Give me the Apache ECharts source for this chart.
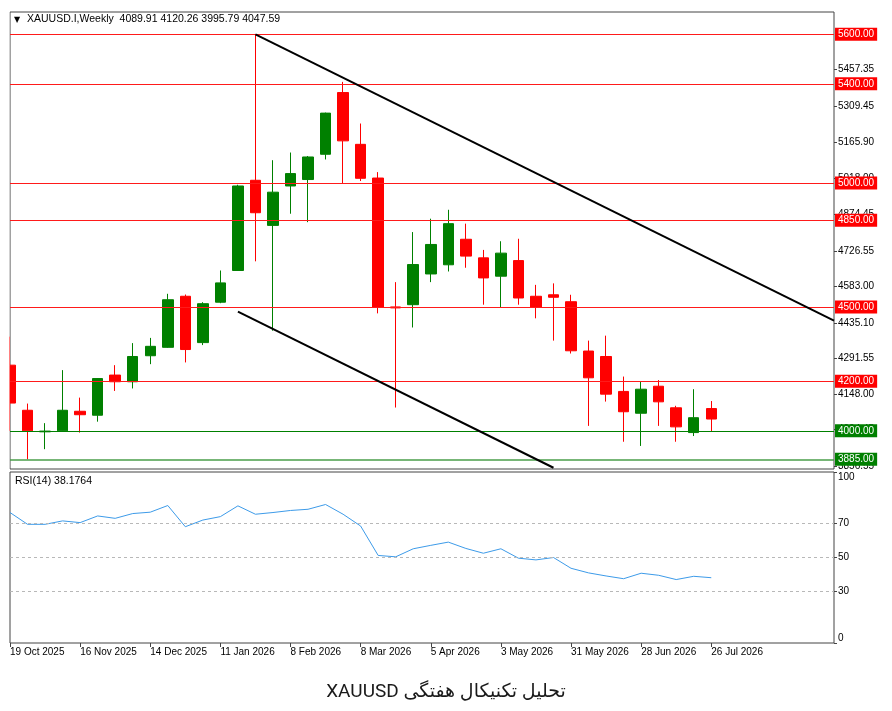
<!DOCTYPE html>
<html>
<head>
<meta charset="utf-8">
<script src="https://cdn.jsdelivr.net/npm/echarts@6/dist/echarts.min.js"></script>
<style>
html, body { margin: 0; padding: 0; background: #fff; }
#chart { width: 892px; height: 711px; }
</style>
</head>
<body>
<div id="chart"></div>
<script>
// weekly bars, XAUUSD
var weeks = ['19 Oct 2025','26 Oct 2025','2 Nov 2025','9 Nov 2025','16 Nov 2025','23 Nov 2025','30 Nov 2025',
  '7 Dec 2025','14 Dec 2025','21 Dec 2025','28 Dec 2025','4 Jan 2026','11 Jan 2026','18 Jan 2026','25 Jan 2026',
  '1 Feb 2026','8 Feb 2026','15 Feb 2026','22 Feb 2026','1 Mar 2026','8 Mar 2026','15 Mar 2026','22 Mar 2026',
  '29 Mar 2026','5 Apr 2026','12 Apr 2026','19 Apr 2026','26 Apr 2026','3 May 2026','10 May 2026','17 May 2026',
  '24 May 2026','31 May 2026','7 Jun 2026','14 Jun 2026','21 Jun 2026','28 Jun 2026','5 Jul 2026','12 Jul 2026',
  '19 Jul 2026','26 Jul 2026','2 Aug 2026','9 Aug 2026','16 Aug 2026','23 Aug 2026','30 Aug 2026','6 Sep 2026','13 Sep 2026'];

var opens  = [4265,4083,3996,4000,4079,4063,4225,4198,4303,4337,4543,4356,4519,4647,5011,4829,4988,5014,5116,5365,5156,
  5020,4500,4509,4633,4670,4773,4698,4624,4687,4543,4549,4521,4322,4300,4159,4071,4180,4093,3993,4089.91];
var closes = [4112,4000,3999,4083,4065,4211,4198,4300,4341,4529,4328,4513,4597,4988,4880,4963,5038,5105,5282,5170,5019,
  4498,4496,4671,4752,4836,4705,4617,4717,4536,4498,4539,4323,4214,4148,4077,4168,4117,4016,4053,4047.59];
var lows   = [4000,3885,3926,3998,3993,4037,4161,4171,4269,4335,4276,4346,4515,4645,4684,4404,4876,4842,5095,5000,5008,
  4474,4094,4417,4600,4643,4658,4509,4498,4509,4454,4364,4312,4020,4118,3956,3939,4020,3956,3979,3995.79];
var highs  = [4380,4110,4031,4245,4134,4213,4265,4354,4375,4553,4550,4519,4647,4993,5598,5092,5123,5109,5284,5408,5240,
  5044,4600,4802,4856,4892,4836,4730,4765,4775,4589,4595,4549,4364,4384,4219,4198,4205,4101,4168,4120.26];

var rsi = [76.3,69.4,69.4,71.4,70.4,74.3,72.9,75.7,76.5,80.4,68.0,71.9,73.9,80.2,75.3,76.3,77.5,78.2,81.0,75.3,68.4,
  51.2,50.4,55.1,57.1,59.0,55.3,52.5,55.1,49.6,48.6,50.0,43.7,41.0,39.2,37.6,40.8,39.6,37.1,39.0,38.1764];

var redLevels = [5600, 5400, 5000, 4850, 4500, 4200];
var greenLevels = [4000, 3885];
var priceTicks = [3856.55, 4004.45, 4148.00, 4291.55, 4435.10, 4583.00, 4726.55, 4874.45, 5018.00, 5165.90, 5309.45, 5457.35];
var rsiTicks = [0, 30, 50, 70, 100];
var rsiLevels = [30, 50, 70];
var upperChannel = [[14, 5600], [47, 4445]];
var lowerChannel = [[13, 4481], [31, 3851]];

var last = opens.length - 1;
var candles = opens.map(function (o, i) { return [o, closes[i], lows[i], highs[i]]; });

function boxLabel(bg) {
  return {
    show: true, position: 'end', distance: 1,
    formatter: function (p) { return Number(p.value).toFixed(2); },
    backgroundColor: bg, color: '#fff', padding: [2, 3, 1, 3],
    fontFamily: 'Liberation Sans', fontSize: 10
  };
}

var lines = [];
redLevels.forEach(function (v) {
  lines.push({ yAxis: v, lineStyle: { color: '#ff1a1a', width: 1, type: 'solid' }, label: boxLabel('#ff0000') });
});
lines.push({ yAxis: greenLevels[0], lineStyle: { color: '#008000', width: 1, type: 'solid' }, label: boxLabel('#008000') });
lines.push({ yAxis: greenLevels[1], lineStyle: { color: '#4a9e4a', width: 1.5, type: 'solid' }, label: boxLabel('#008000') });
lines.push({ yAxis: closes[last], lineStyle: { width: 0, opacity: 0 }, label: boxLabel('#000') });
[upperChannel, lowerChannel].forEach(function (c) {
  lines.push([
    { coord: c[0], lineStyle: { color: '#000', width: 2, type: 'solid' }, label: { show: false } },
    { coord: c[1] }
  ]);
});

var showIdx = function (idx) { return idx % 4 === 0 && idx <= last; };

var chart = echarts.init(document.getElementById('chart'));
var option = {
  backgroundColor: '#fff',
  animation: false,
  title: {
    text: '\u202Bتحلیل تکنیکال هفتگی XAUUSD\u202C',
    left: 'center', top: 678,
    textStyle: { fontFamily: "Roboto, 'DejaVu Sans'", fontSize: 19, fontWeight: 'normal', color: '#1a1a1a' }
  },
  graphic: [
    // white mask so the first, half-visible candle is cut at the frame
    { type: 'rect', left: 0, top: 12, z: 100, shape: { width: 9.5, height: 458 }, style: { fill: '#fff' } },
    { type: 'text', left: 14, top: 16, style: { text: '▼', font: '8px DejaVu Sans', fill: '#000' } },
    { type: 'text', left: 27, top: 14, style: {
      text: 'XAUUSD.I,Weekly  ' + opens[last].toFixed(2) + ' ' + highs[last].toFixed(2) + ' ' +
            lows[last].toFixed(2) + ' ' + closes[last].toFixed(2),
      font: '10.5px Liberation Sans', fill: '#000' } },
    { type: 'text', left: 15, top: 476, style: {
      text: 'RSI(14) ' + rsi[last].toFixed(4), font: '10.5px Liberation Sans', fill: '#000' } }
  ],
  grid: [
    { left: 10, right: 58, top: 12, height: 457, show: true, borderColor: '#444', borderWidth: 1, outerBoundsMode: 'none' },
    { left: 10, right: 58, top: 472, height: 171, show: true, borderColor: '#444', borderWidth: 1, outerBoundsMode: 'none' }
  ],
  xAxis: [
    { type: 'category', gridIndex: 0, data: weeks, boundaryGap: false,
      axisLine: { show: false }, axisTick: { show: false }, axisLabel: { show: false }, splitLine: { show: false } },
    { type: 'category', gridIndex: 1, data: weeks, boundaryGap: false,
      axisLine: { show: false },
      axisTick: { show: true, interval: showIdx, length: 4, lineStyle: { color: '#444' } },
      axisLabel: { interval: showIdx, align: 'left', margin: 4, color: '#000',
        fontFamily: 'Liberation Sans', fontSize: 10 },
      splitLine: { show: false } }
  ],
  yAxis: [
    { type: 'value', gridIndex: 0, position: 'right', min: 3846, max: 5690, scale: true,
      axisLine: { show: false },
      axisTick: { show: true, customValues: priceTicks, length: 3, lineStyle: { color: '#444' } },
      axisLabel: { customValues: priceTicks, margin: 4, color: '#000', fontFamily: 'Liberation Sans', fontSize: 10,
        formatter: function (v) { return v.toFixed(2); } },
      splitLine: { show: false } },
    { type: 'value', gridIndex: 1, position: 'right', min: 0, max: 100,
      axisLine: { show: false },
      axisTick: { show: true, customValues: rsiTicks, length: 3, lineStyle: { color: '#444' } },
      axisLabel: { customValues: rsiTicks, margin: 4, color: '#000', fontFamily: 'Liberation Sans', fontSize: 10,
        verticalAlignMaxLabel: 'top', verticalAlignMinLabel: 'bottom' },
      splitLine: { show: false } }
  ],
  series: [
    {
      type: 'candlestick', xAxisIndex: 0, yAxisIndex: 0, clip: true,
      data: candles, barWidth: 11,
      itemStyle: { color: '#008000', color0: '#ff0000', borderColor: '#008000', borderColor0: '#ff0000', borderWidth: 1 },
      markLine: { silent: true, symbol: ['none', 'none'], label: { show: false }, data: lines }
    },
    {
      type: 'line', xAxisIndex: 1, yAxisIndex: 1, data: rsi,
      symbol: 'none', lineStyle: { color: '#3d9be9', width: 1 }, itemStyle: { color: '#3d9be9' },
      markLine: { silent: true, symbol: ['none', 'none'], label: { show: false },
        lineStyle: { color: '#b8b8b8', width: 1, type: [3, 3] },
        data: rsiLevels.map(function (v) { return { yAxis: v }; }) }
    }
  ]
};
chart.setOption(option);
</script>
</body>
</html>
